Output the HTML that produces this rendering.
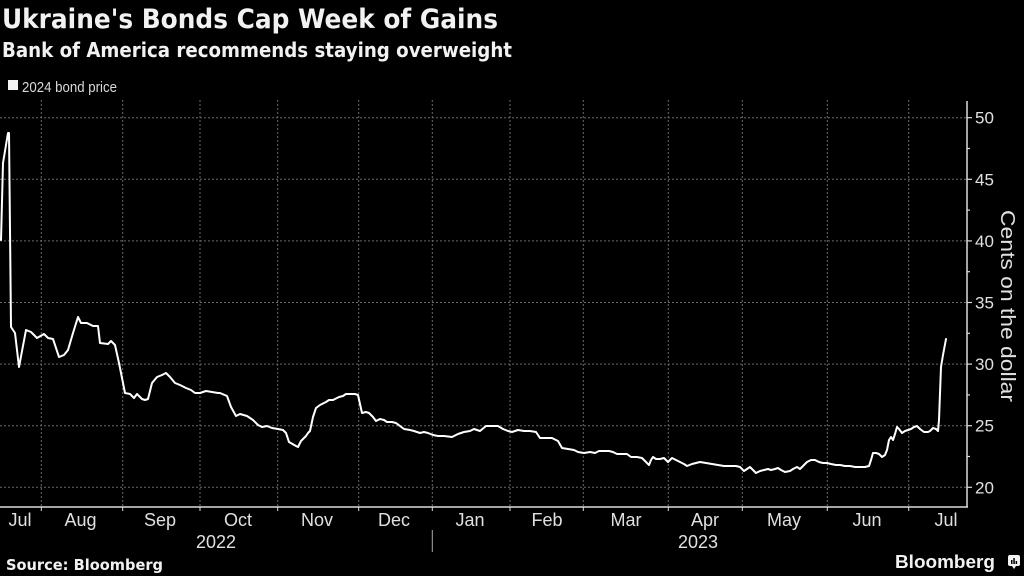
<!DOCTYPE html>
<html>
<head>
<meta charset="utf-8">
<style>
html,body{margin:0;padding:0;background:#000;}
svg{display:block;}
</style>
</head>
<body>
<svg width="1024" height="576" viewBox="0 0 1024 576" xmlns="http://www.w3.org/2000/svg">
<rect x="0" y="0" width="1024" height="576" fill="#000"/>

<!-- Titles -->
<text x="2" y="28" font-family="DejaVu Sans, Liberation Sans, sans-serif" font-weight="bold" font-size="27" fill="#f2f2f2" textLength="496" lengthAdjust="spacingAndGlyphs">Ukraine's Bonds Cap Week of Gains</text>
<text x="2" y="57" font-family="DejaVu Sans, Liberation Sans, sans-serif" font-weight="bold" font-size="20" fill="#f2f2f2" textLength="510" lengthAdjust="spacingAndGlyphs">Bank of America recommends staying overweight</text>

<!-- Legend -->
<rect x="8" y="80" width="10" height="10" fill="#f2f2f2"/>
<text x="22" y="92" font-family="Liberation Sans, sans-serif" font-size="15" fill="#d9d9d9" textLength="95" lengthAdjust="spacingAndGlyphs">2024 bond price</text>

<!-- Horizontal gridlines -->
<g stroke="#6a6a6a" stroke-width="1" stroke-dasharray="2,2">
<line x1="0" y1="117.7" x2="967" y2="117.7"/>
<line x1="0" y1="179.3" x2="967" y2="179.3"/>
<line x1="0" y1="240.9" x2="967" y2="240.9"/>
<line x1="0" y1="302.5" x2="967" y2="302.5"/>
<line x1="0" y1="364.1" x2="967" y2="364.1"/>
<line x1="0" y1="425.7" x2="967" y2="425.7"/>
<line x1="0" y1="487.3" x2="967" y2="487.3"/>
</g>
<!-- Vertical gridlines -->
<g stroke="#6a6a6a" stroke-width="1" stroke-dasharray="2,2">
<line x1="41.3" y1="100" x2="41.3" y2="507"/>
<line x1="122.7" y1="100" x2="122.7" y2="507"/>
<line x1="200" y1="100" x2="200" y2="507"/>
<line x1="277.7" y1="100" x2="277.7" y2="507"/>
<line x1="358.7" y1="100" x2="358.7" y2="507"/>
<line x1="432.3" y1="100" x2="432.3" y2="507"/>
<line x1="510" y1="100" x2="510" y2="507"/>
<line x1="583.3" y1="100" x2="583.3" y2="507"/>
<line x1="668.3" y1="100" x2="668.3" y2="507"/>
<line x1="742.3" y1="100" x2="742.3" y2="507"/>
<line x1="827.3" y1="100" x2="827.3" y2="507"/>
<line x1="908.7" y1="100" x2="908.7" y2="507"/>
</g>

<!-- Axes -->
<line x1="0" y1="507" x2="968" y2="507" stroke="#dcdcdc" stroke-width="1.5"/>
<line x1="967" y1="101" x2="967" y2="507.5" stroke="#dcdcdc" stroke-width="1.5"/>

<!-- X ticks -->
<g stroke="#dcdcdc" stroke-width="1">
<line x1="41.3" y1="507" x2="41.3" y2="511"/>
<line x1="122.7" y1="507" x2="122.7" y2="511"/>
<line x1="200" y1="507" x2="200" y2="511"/>
<line x1="277.7" y1="507" x2="277.7" y2="511"/>
<line x1="358.7" y1="507" x2="358.7" y2="511"/>
<line x1="432.3" y1="507" x2="432.3" y2="511"/>
<line x1="510" y1="507" x2="510" y2="511"/>
<line x1="583.3" y1="507" x2="583.3" y2="511"/>
<line x1="668.3" y1="507" x2="668.3" y2="511"/>
<line x1="742.3" y1="507" x2="742.3" y2="511"/>
<line x1="827.3" y1="507" x2="827.3" y2="511"/>
<line x1="908.7" y1="507" x2="908.7" y2="511"/>
<line x1="432.3" y1="530" x2="432.3" y2="552" stroke="#aaaaaa"/>
</g>

<!-- Y ticks -->
<g stroke="#dcdcdc" stroke-width="1.2">
<line x1="967" y1="117.7" x2="972" y2="117.7"/>
<line x1="967" y1="179.3" x2="972" y2="179.3"/>
<line x1="967" y1="240.9" x2="972" y2="240.9"/>
<line x1="967" y1="302.5" x2="972" y2="302.5"/>
<line x1="967" y1="364.1" x2="972" y2="364.1"/>
<line x1="967" y1="425.7" x2="972" y2="425.7"/>
<line x1="967" y1="487.3" x2="972" y2="487.3"/>
<line x1="967" y1="148.5" x2="970" y2="148.5"/>
<line x1="967" y1="210.1" x2="970" y2="210.1"/>
<line x1="967" y1="271.7" x2="970" y2="271.7"/>
<line x1="967" y1="333.3" x2="970" y2="333.3"/>
<line x1="967" y1="394.9" x2="970" y2="394.9"/>
<line x1="967" y1="456.5" x2="970" y2="456.5"/>
</g>

<!-- Y labels -->
<g font-family="Liberation Sans, sans-serif" font-size="17" fill="#e0e0e0">
<text x="975" y="123.7">50</text>
<text x="975" y="185.3">45</text>
<text x="975" y="246.9">40</text>
<text x="975" y="308.5">35</text>
<text x="975" y="370.1">30</text>
<text x="975" y="431.7">25</text>
<text x="975" y="493.3">20</text>
</g>
<text transform="translate(1001,306) rotate(90)" text-anchor="middle" font-family="Liberation Sans, sans-serif" font-size="20" fill="#e0e0e0" textLength="192" lengthAdjust="spacingAndGlyphs">Cents on the dollar</text>

<!-- X labels -->
<g font-family="Liberation Sans, sans-serif" font-size="18" fill="#e0e0e0" text-anchor="middle">
<text x="20" y="526">Jul</text>
<text x="80.5" y="526">Aug</text>
<text x="160" y="526">Sep</text>
<text x="238" y="526">Oct</text>
<text x="317" y="526">Nov</text>
<text x="394" y="526">Dec</text>
<text x="470" y="526">Jan</text>
<text x="547" y="526">Feb</text>
<text x="626" y="526">Mar</text>
<text x="705" y="526">Apr</text>
<text x="784" y="526">May</text>
<text x="867" y="526">Jun</text>
<text x="946" y="526">Jul</text>
<text x="216" y="548">2022</text>
<text x="698" y="548">2023</text>
</g>

<!-- Data line -->
<polyline fill="none" stroke="#ffffff" stroke-width="2" stroke-linejoin="round" stroke-linecap="round" points="
1,240 3,163 8,133 9,133 11,327 15,333 19,367 26,330 31,332 37,338 44,334 48,338 53,339 59,357 64,355 68,350 73,333 78,317 81,323 87,323 93,326 98,326 100,343 108,344 111,341 115,345 119,363 125,393 130,394 134,398 137,394 142,399 145,400 148,399 152,383 157,377 162,375 166,373 170,377 175,383 180,385 186,388 191,390 195,393 200,393 206,391 212,392 218,393
220,393 227,396 231,407 236,416 240,414 247,416 253,420 258,425 262,427 267,426 272,428 278,429 283,430 286,433 289,442 296,446 298,447 301,441 306,436 308,433 310,431 313,417 316,408 320,405 326,402 329,400 333,400 339,397 343,396 346,394 349,394 355,394 358,395 360,404 362,413 366,412 369,413 373,417 376,421 380,419 384,420 387,422 392,422 396,423 400,426 404,429 410,430 414,431 420,433 424,432 428,433 433,435 438,436 444,436 452,437 458,434
464,432 470,431 474,429 480,431 486,426 492,426 498,426 503,429 508,431 512,432 518,430 524,431 530,431 536,432 540,438 546,438 552,438 558,441 562,448 568,449 574,450 578,452 584,453 590,452 595,453 599,451 605,451 609,451 613,452 617,454 622,454 627,454 631,457 637,457 642,458 649,465 651,460 653,457 656,459 660,459 664,458 668,462 672,458 678,461 684,464 687,466 692,464 696,463
700,462 706,463 712,464 718,465 724,466 730,466 736,466 740,467 744,471 747,469 750,467 753,470 756,473 760,471 764,470 768,469 771,470 775,469 778,468 781,470 785,472 790,471 793,469 797,467 800,469 803,466 807,462 811,460 815,460 819,462 823,463 827,463 831,464 836,465 840,465 845,466 850,466 855,467 860,467 865,467 869,466 871,460 873,453 876,453 879,454 882,457 885,455 887,450 889,440 891,437 893,440 895,434 897,427 899,429 902,433 905,431 908,430 911,429 914,427 917,426 920,429 924,432 928,432 930,431 933,428 936,429 938,431 939,420 941,367 943,355 946,339"/>

<!-- Footer -->
<text x="6" y="570" font-family="DejaVu Sans, Liberation Sans, sans-serif" font-weight="bold" font-size="15" fill="#f2f2f2" textLength="157" lengthAdjust="spacingAndGlyphs">Source: Bloomberg</text>
<text x="895" y="568" font-family="Liberation Sans, DejaVu Sans, sans-serif" font-weight="bold" font-size="18" fill="#f2f2f2" textLength="100" lengthAdjust="spacingAndGlyphs">Bloomberg</text>
<g>
<rect x="1008" y="555" width="12" height="11" rx="2" fill="#f2f2f2"/>
<polygon points="1012,566 1016,566 1014,569" fill="#f2f2f2"/>
<rect x="1011" y="560" width="1.5" height="4" fill="#000"/>
<rect x="1013.3" y="558" width="1.5" height="6" fill="#000"/>
<rect x="1015.6" y="561" width="1.5" height="3" fill="#000"/>
</g>
</svg>
</body>
</html>
